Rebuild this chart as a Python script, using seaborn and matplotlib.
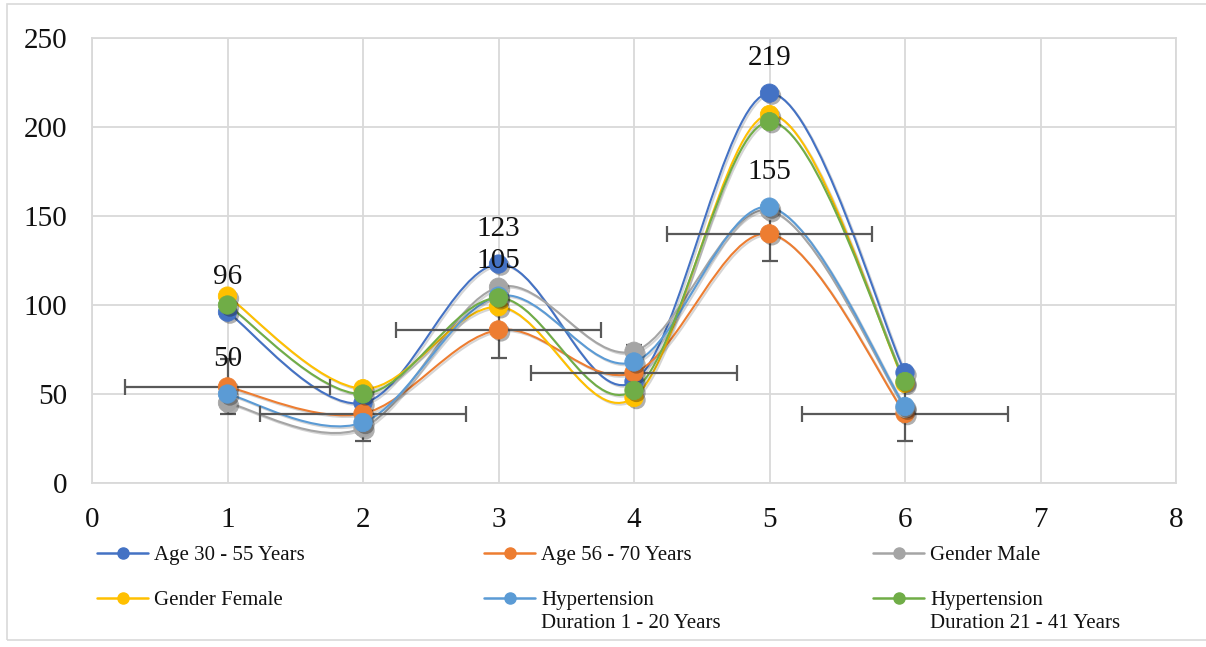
import numpy as np
import matplotlib
matplotlib.use("Agg")
import matplotlib.pyplot as plt
import matplotlib.patheffects as pe
from matplotlib.path import Path
from matplotlib.patches import PathPatch, Rectangle
from matplotlib.lines import Line2D
import seaborn as sns

# ---------------- data ----------------
x_vals = [1, 2, 3, 4, 5, 6]
age_30_55 = [96, 45, 123, 57, 219, 62]
age_56_70 = [54, 39, 86, 62, 140, 39]
gender_male = [45, 31, 110, 74, 153, 42]
gender_female = [105, 53, 99, 48, 207, 56]
htn_1_20 = [50, 34, 105, 68, 155, 43]
htn_21_41 = [100, 50, 104, 52, 203, 57]

series_names = ["Age 30 - 55 Years", "Age 56 - 70 Years", "Gender Male",
                "Gender Female", "Hypertension\nDuration 1 - 20 Years",
                "Hypertension\nDuration 21 - 41 Years"]
series_values = [age_30_55, age_56_70, gender_male, gender_female, htn_1_20, htn_21_41]
series_colors = ["#4472C4", "#ED7D31", "#A5A5A5", "#FFC000", "#5B9BD5", "#70AD47"]

# error bars (on "Age 56 - 70 Years")
err_x = 0.76
err_y = 15.5

# data labels: shown at x = 1, 3, 5 on two series
label_positions = [1, 3, 5]
labelled_series = [0, 4]

x_ticks = [0, 1, 2, 3, 4, 5, 6, 7, 8]
y_ticks = [0, 50, 100, 150, 200, 250]

# ---------------- style ----------------
sns.set_theme(style="white")
plt.rcParams["font.family"] = ["Liberation Serif", "DejaVu Serif"]

W, H = 1206, 647
fig = plt.figure(figsize=(W / 100, H / 100), dpi=100)
ax = fig.add_axes([92 / W, 1 - 483 / H, (1176 - 92) / W, (483 - 38) / H])

grid_c = "#D9D9D9"
ax.set_xlim(0, 8)
ax.set_ylim(0, 250)
ax.set_xticks(x_ticks)
ax.set_yticks(y_ticks)
ax.grid(True, color=grid_c, lw=1.3)
ax.set_axisbelow(True)
for s in ax.spines.values():
    s.set_color(grid_c)
    s.set_linewidth(1.3)
ax.tick_params(axis="both", length=0, labelsize=21, colors="#111111")
ax.tick_params(axis="y", pad=18)
ax.tick_params(axis="x", pad=17)


def smooth_path(xs, ys):
    pts = np.column_stack([xs, ys]).astype(float)
    n = len(pts)
    verts = [pts[0]]
    codes = [Path.MOVETO]
    for i in range(n - 1):
        p0 = pts[i - 1] if i > 0 else pts[i]
        p1 = pts[i]
        p2 = pts[i + 1]
        p3 = pts[i + 2] if i + 2 < n else pts[i + 1]
        c1 = p1 + (p2 - p0) / 6.0
        c2 = p2 - (p3 - p1) / 6.0
        verts += [c1, c2, p2]
        codes += [Path.CURVE4] * 3
    return Path(verts, codes)


line_shadow = [pe.SimpleLineShadow(offset=(1.2, -1.2), shadow_color="k", alpha=0.18), pe.Normal()]
marker_shadow = [pe.SimplePatchShadow(offset=(1.8, -1.8), shadow_rgbFace="k", alpha=0.35), pe.Normal()]

# smoothed lines
for i, (vals, col) in enumerate(zip(series_values, series_colors)):
    patch = PathPatch(smooth_path(x_vals, vals), fill=False, edgecolor=col, lw=1.5,
                      zorder=2 + i * 0.01)
    patch.set_path_effects(line_shadow)
    ax.add_patch(patch)

# error bars
ax.errorbar(x_vals, age_56_70, xerr=err_x, yerr=err_y, fmt="none", ecolor="#595959",
            elinewidth=1.6, capsize=6, capthick=1.6, zorder=3)

# markers
for i, (vals, col) in enumerate(zip(series_values, series_colors)):
    sns.scatterplot(x=x_vals, y=vals, color=col, s=175, edgecolor=col, linewidth=0.6,
                    ax=ax, zorder=4 + i * 0.01, legend=False)
    ax.collections[-1].set_path_effects(marker_shadow)

# data labels
for si in labelled_series:
    vals = series_values[si]
    for xp in label_positions:
        idx = x_vals.index(xp)
        ax.annotate(f"{vals[idx]}", (xp, vals[idx]), xytext=(0, 25), textcoords="offset points",
                    ha="center", va="center", fontsize=21, color="#111111", zorder=6)

ax.set_xlabel("")
ax.set_ylabel("")

# ---------------- legend (manual, 3 columns x 2 rows) ----------------
col_x = [97, 484, 873]
row_y = [553, 598]
handle_len = 51
for k, (name, col) in enumerate(zip(series_names, series_colors)):
    r, c = divmod(k, 3)
    x0 = col_x[c]
    y0 = row_y[r]
    fy = 1 - y0 / H
    fig.add_artist(Line2D([x0 / W, (x0 + handle_len) / W], [fy, fy], color=col, lw=1.8,
                          transform=fig.transFigure))
    fig.add_artist(Line2D([(x0 + handle_len / 2) / W], [fy], color=col, marker="o",
                          markersize=8, lw=0, transform=fig.transFigure))
    fig.text((x0 + 57) / W, 1 - (y0 - 7) / H, name, ha="left", va="top", fontsize=15,
             color="#111111", linespacing=1.25)

# outer chart border
fig.add_artist(Rectangle((7 / W, 7 / H), 1.2, 1 - 11 / H, transform=fig.transFigure,
                         fill=False, edgecolor=grid_c, lw=1.2))

fig.savefig("out.png", dpi=100)
